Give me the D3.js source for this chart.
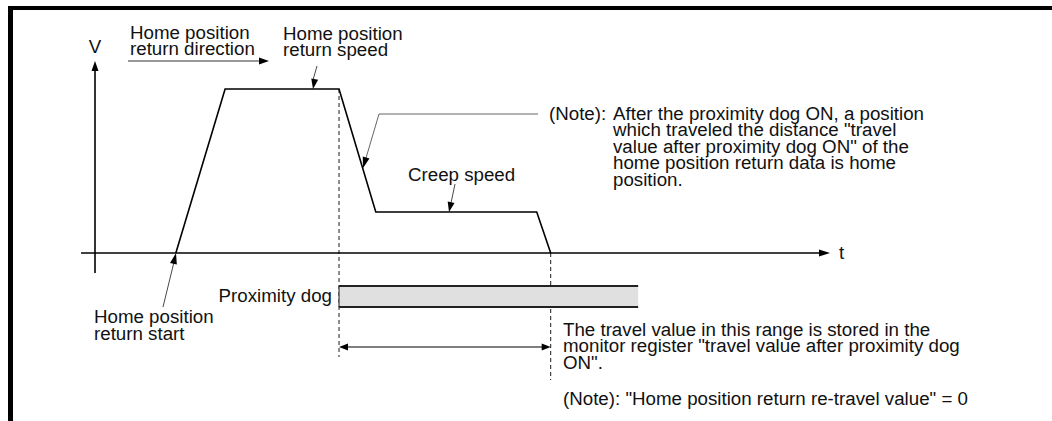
<!DOCTYPE html>
<html><head><meta charset="utf-8">
<script src="https://cdn.jsdelivr.net/npm/d3@7"></script>
<style>
html,body{margin:0;padding:0;background:#fff;}
text{font-family:"Liberation Sans",Arial,sans-serif;font-size:18px;fill:#111;}
</style></head>
<body>
<svg id="c" width="1052" height="421"></svg>
<script>
// speed profile (time units, speed % of home position return speed)
const profileT = [11, 17.7, 33.2, 38.2, 60.1, 62];
const profileV = [0, 100, 100, 25, 25, 0];
// proximity dog ON interval
const dogStart = 33.2;
const dogEnd = 73.9;
// text labels
const dirLabel = ["Home position", "return direction"];
const speedLabel = ["Home position", "return speed"];
const creepLabel = ["Creep speed"];
const startLabel = ["Home position", "return start"];
const noteHead = "(Note):";
const noteLines = ["After the proximity dog ON, a position", "which traveled the distance \"travel", "value after proximity dog ON\" of the", "home position return data is home", "position."];
const rangeLines = ["The travel value in this range is stored in the", "monitor register \"travel value after proximity dog", "ON\"."];
const reTravelNote = "(Note): \"Home position return re-travel value\" = 0";

const svg = d3.select("#c");
const x = d3.scaleLinear().domain([0, 100]).range([95, 830]);
const y = d3.scaleLinear().domain([0, 100]).range([253, 89]);
const SX = 1.04;

// frame
svg.append("rect").attr("x", 8).attr("y", 6).attr("width", 1044).attr("height", 4).attr("fill", "#000");
svg.append("rect").attr("x", 8).attr("y", 6).attr("width", 5).attr("height", 415).attr("fill", "#000");

function head(tx, ty, fx, fy, len = 10, w = 7) {
  const a = Math.atan2(ty - fy, tx - fx);
  const bx = tx - len * Math.cos(a), by = ty - len * Math.sin(a);
  const px = -Math.sin(a) * w / 2, py = Math.cos(a) * w / 2;
  svg.append("path").attr("d", `M${tx},${ty}L${bx + px},${by + py}L${bx - px},${by - py}Z`).attr("fill", "#000");
}
function line(pts, color = "#000", wdt = 1.5, dash = null) {
  const p = svg.append("path").attr("d", d3.line()(pts)).attr("fill", "none")
    .attr("stroke", color).attr("stroke-width", wdt);
  if (dash) p.attr("stroke-dasharray", dash);
  return p;
}
function label(lines, tx, ty, lh = 16.5, anchor = "start") {
  const g = svg.append("g").attr("transform", `translate(${tx},0) scale(${SX},1) translate(${-tx},0)`);
  const t = g.append("text").attr("x", tx).attr("y", ty).attr("text-anchor", anchor);
  lines.forEach((s, i) => t.append("tspan").attr("x", tx).attr("dy", i ? lh : 0).text(s));
}

// axes
line([[95, 273], [95, y(117) + 8]], "#000", 1.6);
head(95, y(117), 95, 273, 10, 7);
label(["V"], 95, 53, 16.5, "middle");
line([[x(-1.9), y(0)], [x(100) - 8, y(0)]], "#000", 1.6);
head(x(100), y(0), x(0), y(0), 11, 7);
label(["t"], 839, 259);

// dashed guides
line([[x(dogStart), y(100)], [x(dogStart), 357]], "#000", 0.9, "4,3");
line([[x(profileT[5]), y(0)], [x(profileT[5]), 380]], "#000", 0.9, "4,3");

// profile
line(profileT.map((t, i) => [x(t), y(profileV[i])]), "#000", 1.6);

// proximity dog
const dx0 = x(dogStart), dx1 = x(dogEnd);
svg.append("rect").attr("x", dx0).attr("y", 286).attr("width", dx1 - dx0).attr("height", 21).attr("fill", "#e0e0e0");
line([[dx0, 286], [dx1, 286]], "#222", 2);
line([[dx0, 307], [dx1, 307]], "#222", 2);
line([[dx0, 286], [dx0, 307]], "#222", 1);
label(["Proximity dog"], 332, 302, 16.5, "end");

// travel range double arrow
line([[dx0 + 8, 347], [x(profileT[5]) - 8, 347]], "#000", 1.2);
head(dx0, 347, x(profileT[5]), 347, 9, 7);
head(x(profileT[5]), 347, dx0, 347, 9, 7);

// direction label + arrow
label(dirLabel, 130, 39);
line([[128, 61], [261, 61]], "#333", 1);
head(269, 61, 128, 61, 10, 7);

// return speed label
label(speedLabel, 283, 40);
line([[317, 66], [313, 80]], "#333", 0.9);
head(313, y(100), 317, 66, 10, 7);

// note leader
line([[538, 114], [379, 114], [366, 158]], "#555", 0.9);
head(363, 168, 379, 114, 11, 7);
label([noteHead], 549, 120);
label(noteLines, 613, 120);

// creep speed
label(creepLabel, 408, 181);
line([[455, 184], [451, 203]], "#333", 0.9);
head(449, y(25), 455, 184, 10, 7);

// return start
label(startLabel, 94, 323, 17);
line([[163, 307], [174, 262]], "#333", 0.9);
head(176, y(0), 163, 307, 11, 7);

// range text
label(rangeLines, 563, 336);
label([reTravelNote], 563, 405);
</script>
</body></html>
